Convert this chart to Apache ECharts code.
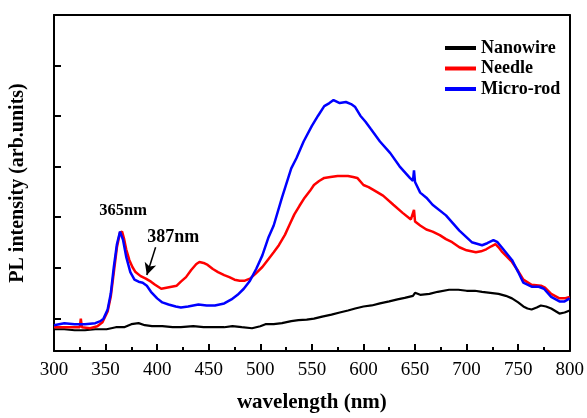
<!DOCTYPE html>
<html>
<head>
<meta charset="utf-8">
<script src="https://cdn.jsdelivr.net/npm/echarts@6/dist/echarts.min.js"></script>
<style>
  html, body { margin: 0; padding: 0; background: #fff; }
  #chart { width: 587px; height: 418px; }
</style>
</head>
<body>
<div id="chart"></div>
<script>
// wavelength (nm) / PL intensity (arb. units)
const nanowireX = [300, 310, 320, 330, 340, 351, 360, 368, 375, 382, 388, 395, 405, 415, 423, 435, 445, 456, 465, 473, 482, 492, 500, 505, 513, 521, 530, 537, 545, 552, 560, 569, 577, 585, 592, 600, 608, 616, 625, 633, 640, 648, 650, 655, 664, 672, 683, 692, 700, 708, 715, 723, 731, 738, 744, 750, 755, 759, 763, 768, 772, 777, 782, 790, 795, 800];
const nanowireY = [0.43, 0.43, 0.41, 0.41, 0.43, 0.43, 0.47, 0.47, 0.53, 0.55, 0.51, 0.49, 0.49, 0.47, 0.47, 0.49, 0.47, 0.47, 0.47, 0.49, 0.47, 0.45, 0.49, 0.53, 0.53, 0.55, 0.59, 0.61, 0.62, 0.64, 0.68, 0.72, 0.76, 0.80, 0.84, 0.88, 0.90, 0.94, 0.98, 1.02, 1.05, 1.09, 1.15, 1.11, 1.13, 1.17, 1.21, 1.21, 1.19, 1.19, 1.17, 1.15, 1.13, 1.09, 1.04, 0.96, 0.88, 0.84, 0.82, 0.86, 0.90, 0.88, 0.84, 0.74, 0.76, 0.80];

const needleX = [300, 310, 320, 325, 326, 327, 335, 342, 347, 352, 355, 358, 361, 364, 366, 368, 370, 373, 376, 379, 384, 389, 394, 398, 404, 409, 414, 419, 423, 428, 433, 438, 441, 445, 449, 454, 459, 465, 470, 475, 480, 485, 490, 495, 502, 508, 513, 518, 524, 528, 533, 538, 543, 548, 552, 557, 562, 568, 575, 580, 585, 590, 594, 600, 605, 610, 619, 629, 638, 646, 649, 650, 655, 661, 667, 674, 680, 686, 693, 700, 709, 714, 719, 724, 728, 731, 734, 744, 750, 755, 763, 772, 776, 782, 790, 795, 800];
const needleY = [0.47, 0.47, 0.47, 0.47, 0.64, 0.47, 0.45, 0.49, 0.57, 0.78, 1.07, 1.56, 2.05, 2.34, 2.36, 2.21, 2.01, 1.80, 1.66, 1.56, 1.48, 1.43, 1.37, 1.31, 1.23, 1.25, 1.27, 1.29, 1.37, 1.46, 1.60, 1.72, 1.76, 1.74, 1.70, 1.62, 1.56, 1.50, 1.46, 1.41, 1.39, 1.39, 1.43, 1.52, 1.66, 1.82, 1.95, 2.09, 2.30, 2.48, 2.70, 2.87, 3.03, 3.16, 3.28, 3.36, 3.42, 3.44, 3.46, 3.46, 3.46, 3.44, 3.42, 3.28, 3.24, 3.18, 3.07, 2.89, 2.73, 2.60, 2.79, 2.56, 2.48, 2.40, 2.36, 2.29, 2.21, 2.15, 2.05, 1.99, 1.95, 1.97, 2.01, 2.07, 2.11, 2.05, 1.97, 1.76, 1.58, 1.41, 1.31, 1.29, 1.25, 1.13, 1.04, 1.04, 1.07];

const microRodX = [300, 310, 320, 330, 340, 345, 348, 352, 355, 358, 361, 364, 365, 367, 370, 374, 378, 382, 386, 390, 394, 400, 405, 411, 418, 423, 430, 440, 448, 456, 465, 472, 478, 484, 490, 496, 502, 508, 513, 521, 530, 535, 542, 550, 556, 562, 567, 571, 577, 583, 588, 592, 597, 602, 607, 616, 626, 635, 645, 648, 649, 650, 655, 661, 667, 680, 693, 705, 715, 720, 726, 730, 734, 744, 750, 755, 763, 770, 775, 782, 790, 795, 800];
const microRodY = [0.51, 0.55, 0.53, 0.53, 0.55, 0.59, 0.64, 0.82, 1.13, 1.66, 2.11, 2.36, 2.38, 2.19, 1.86, 1.56, 1.41, 1.37, 1.35, 1.29, 1.17, 1.04, 0.96, 0.92, 0.88, 0.86, 0.88, 0.92, 0.90, 0.90, 0.94, 1.02, 1.11, 1.23, 1.39, 1.62, 1.89, 2.25, 2.48, 3.03, 3.61, 3.81, 4.14, 4.45, 4.65, 4.84, 4.90, 4.96, 4.90, 4.92, 4.88, 4.82, 4.65, 4.53, 4.39, 4.14, 3.91, 3.65, 3.42, 3.36, 3.57, 3.34, 3.13, 3.03, 2.89, 2.68, 2.38, 2.15, 2.09, 2.13, 2.19, 2.15, 2.05, 1.80, 1.56, 1.35, 1.27, 1.27, 1.23, 1.07, 0.98, 0.98, 1.04];

const yTicks = [0.645, 1.645, 2.645, 3.645, 4.645, 5.645];

const zip = (xs, ys) => xs.map((x, i) => [x, ys[i]]);
const serif = 'Liberation Serif';

const chart = echarts.init(document.getElementById('chart'), null, { renderer: 'canvas' });

const axisLine = { show: true, onZero: false, lineStyle: { color: '#000', width: 2 } };

const option = {
  backgroundColor: '#fff',
  animation: false,
  grid: { left: 49, right: 15, top: 15, bottom: 63 },
  legend: {
    orient: 'vertical',
    left: 440,
    top: 34,
    itemWidth: 31,
    itemHeight: 4,
    itemGap: 2.5,
    icon: 'rect',
    textStyle: { fontFamily: serif, fontWeight: 'bold', fontSize: 18, color: '#000', lineHeight: 18 },
    data: ['Nanowire', 'Needle', 'Micro-rod']
  },
  xAxis: [
    {
      type: 'value',
      min: 300,
      max: 800,
      interval: 50,
      name: 'wavelength (nm)',
      nameLocation: 'middle',
      nameGap: 41,
      nameTextStyle: { fontFamily: serif, fontWeight: 'bold', fontSize: 21, color: '#000' },
      axisLine: axisLine,
      axisTick: { inside: true, length: 7, lineStyle: { color: '#000', width: 2 } },
      minorTick: { show: true, splitNumber: 2, length: 4, lineStyle: { color: '#000', width: 2 } },
      axisLabel: { fontFamily: serif, fontSize: 19, color: '#000', margin: 10 },
      splitLine: { show: false }
    },
    {
      type: 'value', position: 'top', min: 300, max: 800,
      axisLine: axisLine, axisTick: { show: false }, axisLabel: { show: false }, splitLine: { show: false }
    }
  ],
  yAxis: [
    {
      type: 'value',
      min: 0,
      max: 6.64,
      name: 'PL intensity (arb.units)',
      nameLocation: 'middle',
      nameGap: 26,
      nameTextStyle: { fontFamily: serif, fontWeight: 'bold', fontSize: 20, color: '#000' },
      axisLine: axisLine,
      axisTick: { inside: true, length: 7, customValues: yTicks, lineStyle: { color: '#000', width: 2 } },
      axisLabel: { show: false },
      splitLine: { show: false }
    },
    {
      type: 'value', position: 'right', min: 0, max: 6.64,
      axisLine: axisLine, axisTick: { show: false }, axisLabel: { show: false }, splitLine: { show: false }
    }
  ],
  series: [
    {
      name: 'Nanowire',
      type: 'line',
      showSymbol: false,
      color: '#000000',
      lineStyle: { width: 2.2 },
      data: zip(nanowireX, nanowireY)
    },
    {
      name: 'Needle',
      type: 'line',
      showSymbol: false,
      color: '#ff0000',
      lineStyle: { width: 2.5 },
      data: zip(needleX, needleY),
      markLine: {
        silent: true,
        symbol: ['none', 'arrow'],
        symbolSize: [9, 12],
        label: { show: false },
        lineStyle: { color: '#000', width: 1.5, type: 'solid' },
        data: [[{ coord: [398.5, 2.05] }, { coord: [390, 1.5] }]]
      }
    },
    {
      name: 'Micro-rod',
      type: 'line',
      showSymbol: false,
      color: '#0000ff',
      lineStyle: { width: 2.5 },
      data: zip(microRodX, microRodY),
      markPoint: {
        silent: true,
        symbol: 'circle',
        symbolSize: 0,
        label: { show: true, position: 'inside', fontFamily: serif, fontWeight: 'bold', color: '#000', formatter: '{b}' },
        data: [
          { name: '365nm', coord: [367, 2.77], label: { fontSize: 16.5 } },
          { name: '387nm', coord: [415.7, 2.25], label: { fontSize: 18 } }
        ]
      }
    }
  ]
};

option && chart.setOption(option);
</script>
</body>
</html>
